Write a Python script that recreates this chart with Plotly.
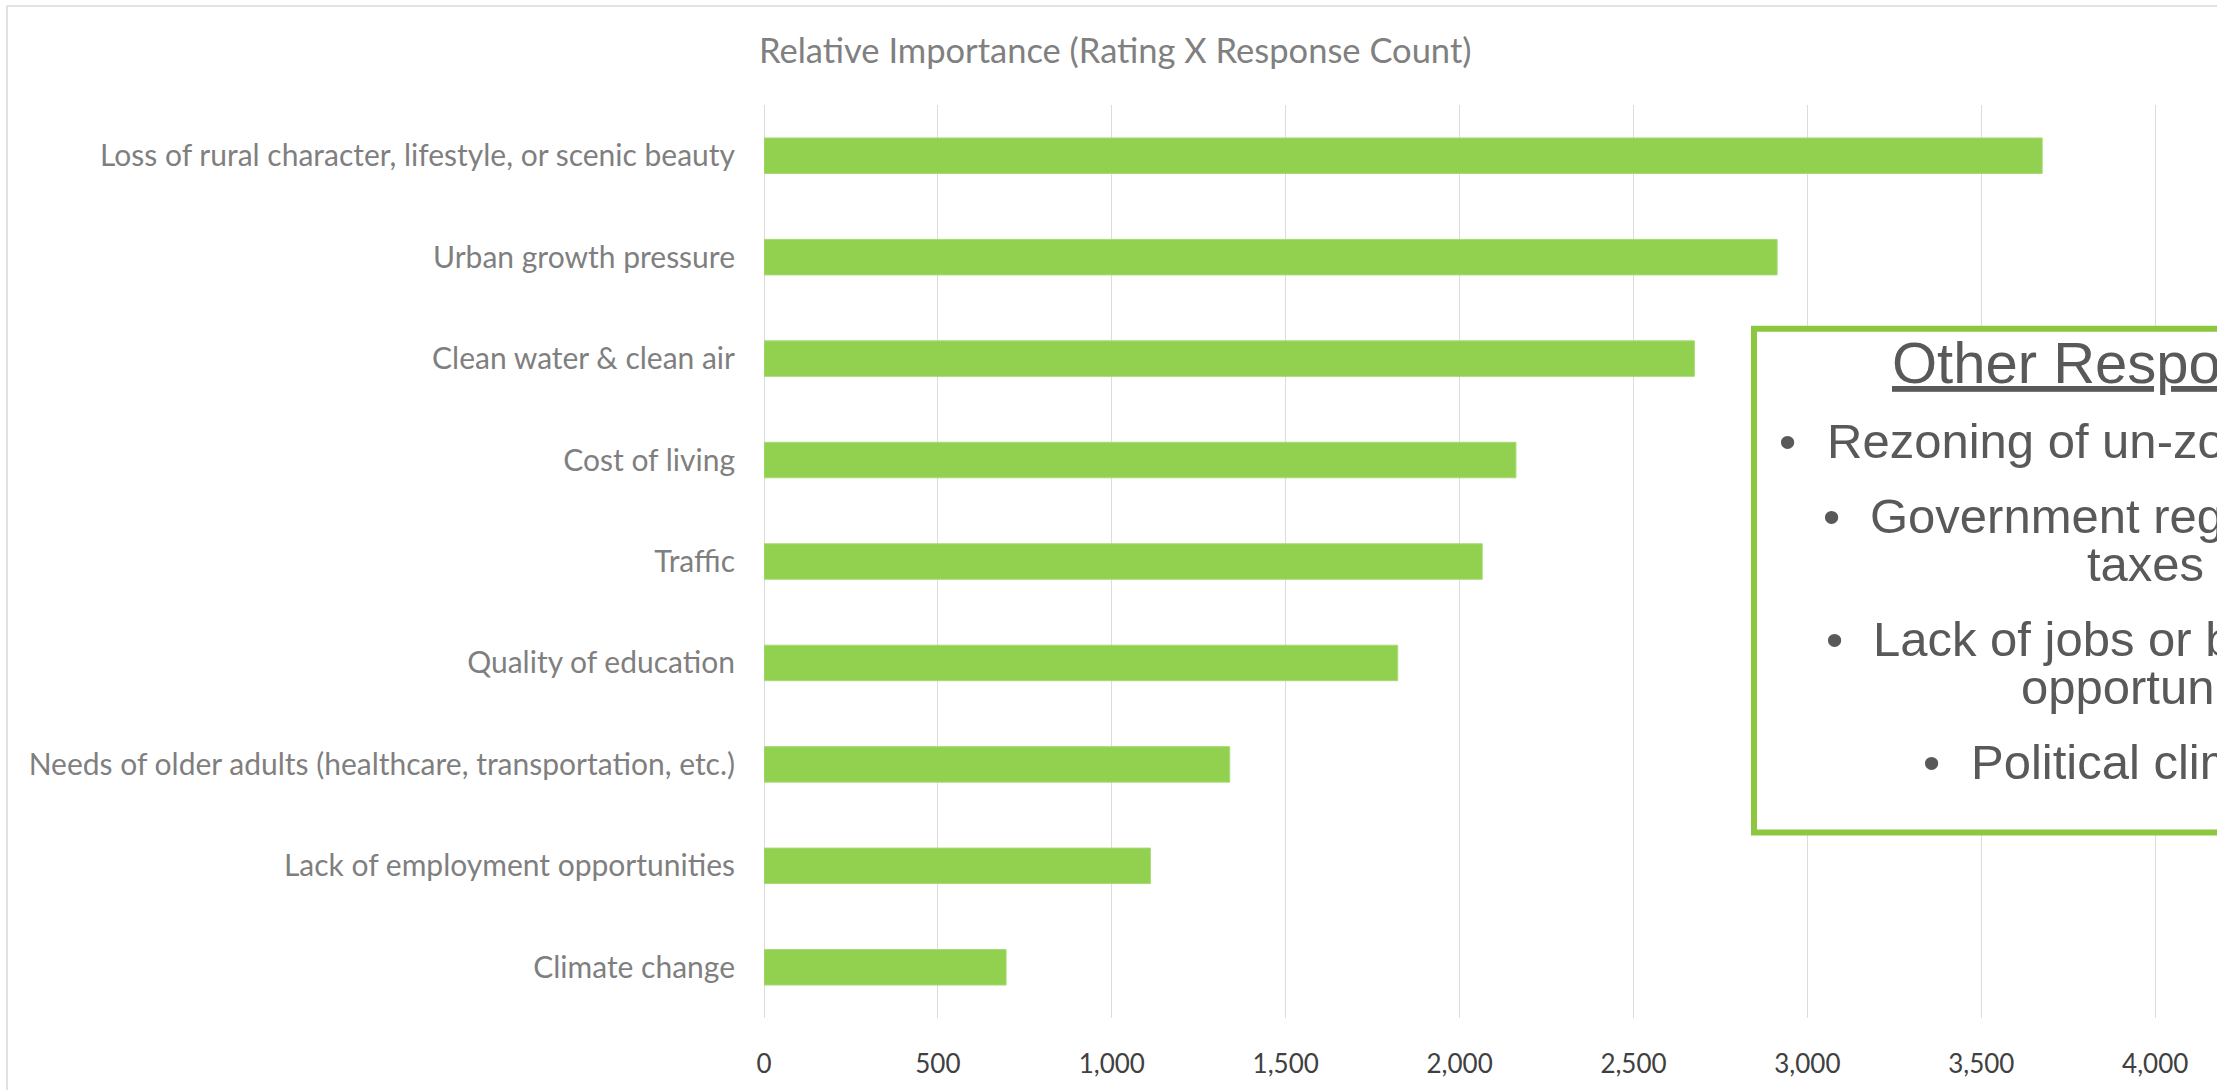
import plotly.graph_objects as go

# Survey concerns, ordered top to bottom as displayed
categories = [
    "Loss of rural character, lifestyle, or scenic beauty",
    "Urban growth pressure",
    "Clean water & clean air",
    "Cost of living",
    "Traffic",
    "Quality of education",
    "Needs of older adults (healthcare, transportation, etc.)",
    "Lack of employment opportunities",
    "Climate change",
]
importance = [3675, 2913, 2675, 2162, 2065, 1822, 1339, 1111, 696]

chart_title = "Relative Importance (Rating X Response Count)"
box_title = "Other Responses"
other_responses = [
    ["Rezoning of un-zoned land"],
    ["Government regulations and", "taxes"],
    ["Lack of jobs or business", "opportunities"],
    ["Political climate"],
]

W, H = 2217, 1090
ML, MR, MT, MB = 764, 0, 105, 72
PW, PH = W - ML - MR, H - MT - MB
PX_PER_UNIT = 173.9 / 500.0
x_max = PW / PX_PER_UNIT


def px(x):
    return (x - ML) / PW


def py(y):
    return (H - MB - y) / PH


fig = go.Figure(
    go.Bar(
        x=importance,
        y=categories,
        orientation="h",
        width=0.35,
        marker=dict(color="#92d050", line=dict(color="#a6da74", width=1)),
        hoverinfo="x+y",
    )
)

label_font = "Lato, 'Open Sans', sans-serif"
box_font = "'Liberation Sans', Arial, sans-serif"
box_color = "#595959"

fig.update_layout(
    width=W,
    height=H,
    margin=dict(l=ML, r=MR, t=MT, b=MB, pad=0),
    paper_bgcolor="white",
    plot_bgcolor="white",
    showlegend=False,
    title=dict(
        text=chart_title,
        x=759 / W,
        xanchor="left",
        xref="container",
        y=1 - 51 / H,
        yanchor="middle",
        yref="container",
        font=dict(family=label_font, size=34.5, color="#808080"),
    ),
    xaxis=dict(
        range=[0, x_max],
        tick0=0,
        dtick=500,
        tickformat=",d",
        showgrid=True,
        gridcolor="#dcdcdc",
        gridwidth=1,
        zeroline=True,
        zerolinecolor="#dcdcdc",
        zerolinewidth=1,
        showline=False,
        ticks="",
        ticklabelstandoff=28,
        tickfont=dict(family=label_font, size=26, color="#404040"),
        fixedrange=True,
    ),
    yaxis=dict(
        categoryorder="array",
        categoryarray=categories,
        autorange="reversed",
        showgrid=False,
        zeroline=False,
        showline=False,
        ticks="",
        ticklabelstandoff=28,
        tickfont=dict(family=label_font, size=30, color="#7f7f7f"),
        fixedrange=True,
    ),
)

shapes = [
    # outer chart frame (left and top edges)
    dict(type="line", xref="paper", yref="paper",
         x0=px(7), x1=px(7), y0=py(6), y1=py(H + 20),
         line=dict(color="#d9d9d9", width=1.5)),
    dict(type="line", xref="paper", yref="paper",
         x0=px(7), x1=px(W + 20), y0=py(6), y1=py(6),
         line=dict(color="#d9d9d9", width=1.5)),
    # callout box
    dict(type="rect", xref="paper", yref="paper",
         x0=px(1754), x1=px(2700), y0=py(328.7), y1=py(832.6),
         line=dict(color="#8dc63f", width=6), fillcolor="white",
         layer="above"),
]

annotations = [
    dict(text="<u>" + box_title + "</u>", xref="paper", yref="paper",
         x=px(1890), y=py(362), xanchor="left", yanchor="middle",
         showarrow=False, font=dict(family=box_font, size=58, color=box_color)),
]

# bullet centre x, first-line text x, first-line centre y, continuation x
bullet_rows = [
    (1787.7, 1825, 440.7, None),
    (1831.7, 1868, 516.0, 2085),
    (1834.3, 1871, 639.0, 2018.5),
    (1931.7, 1969, 762.0, None),
]
for (bx, tx, ty, cx), lines in zip(bullet_rows, other_responses):
    annotations.append(dict(text="\u2022", xref="paper", yref="paper",
                            x=px(bx), y=py(ty), xanchor="center", yanchor="middle",
                            showarrow=False,
                            font=dict(family=box_font, size=49, color=box_color)))
    annotations.append(dict(text=lines[0], xref="paper", yref="paper",
                            x=px(tx), y=py(ty), xanchor="left", yanchor="middle",
                            showarrow=False,
                            font=dict(family=box_font, size=49, color=box_color)))
    if len(lines) > 1:
        annotations.append(dict(text=lines[1], xref="paper", yref="paper",
                                x=px(cx), y=py(ty + 48), xanchor="left", yanchor="middle",
                                showarrow=False,
                                font=dict(family=box_font, size=49, color=box_color)))

fig.update_layout(shapes=shapes, annotations=annotations)

fig.write_html("out.html", config={"displayModeBar": False})
